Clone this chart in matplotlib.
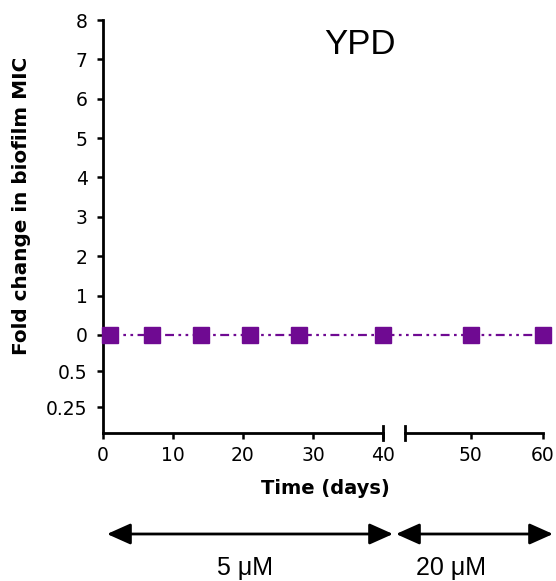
import matplotlib
matplotlib.use("Agg")
import matplotlib.pyplot as plt
import matplotlib.transforms as mtransforms
import numpy as np

plt.rcParams['font.family'] = ['DejaVu Sans']

# data
days = [1, 7, 14, 21, 28, 40, 50, 60]
fold_change = [0, 0, 0, 0, 0, 0, 0, 0]

y_tick_pos = [-1.83, -0.92, 0, 1, 2, 3, 4, 5, 6, 7, 8]
y_tick_labels = ['0.25', '0.5', '0', '1', '2', '3', '4', '5', '6', '7', '8']
x_ticks = [0, 10, 20, 30, 40, 50, 60]
dose_labels = ['5 \u03bcM', '20 \u03bcM']

# broken x axis: 0-40 then 40.9-60
brk_x = [0, 40, 40.9, 60]
brk_px = [0, 280, 302, 440]


def fwd(x):
    return np.interp(x, brk_x, brk_px, left=-1e3, right=1e3)


def inv(p):
    return np.interp(p, brk_px, brk_x)


purple = '#6f0a92'

fig = plt.figure(figsize=(5.56, 5.81), dpi=100)
ax = fig.add_axes([103 / 556, 1 - 433 / 581, 440 / 556, 413 / 581])
ax.set_xscale('function', functions=(fwd, inv))
ax.set_xlim(0, 60)
ax.set_ylim(-2.49, 8)

ax.plot(days, fold_change, color=purple, lw=1.6, dashes=[4, 2, 1.2, 2, 1.2, 2],
        marker='s', ms=11.3, mfc=purple, mec=purple, clip_on=False, zorder=5)

for s in ['top', 'right', 'bottom']:
    ax.spines[s].set_visible(False)
ax.spines['left'].set_linewidth(2)

# bottom axis drawn in two pieces
trans = mtransforms.blended_transform_factory(ax.transData, ax.transAxes)
ax.plot([0, 40], [0, 0], color='k', lw=2, transform=trans, clip_on=False)
ax.plot([40.9, 60], [0, 0], color='k', lw=2, transform=trans, clip_on=False)
for xc in [40, 40.9]:
    ax.plot([xc, xc], [-0.018, 0.018], color='k', lw=2, transform=trans, clip_on=False)

ax.set_yticks(y_tick_pos)
ax.set_yticklabels(y_tick_labels)
ax.set_xticks(x_ticks)
ax.set_xticklabels([str(t) for t in x_ticks])
ax.xaxis.set_minor_locator(matplotlib.ticker.NullLocator())
ax.tick_params(axis='both', direction='out', length=4.5, width=1.8, labelsize=13.5, colors='k')
ax.tick_params(axis='y', pad=6.5)
ax.tick_params(axis='x', pad=5)

ax.set_ylabel('Fold change in biofilm MIC', fontsize=14.4, fontweight='bold')
ax.yaxis.set_label_coords(-(103 - 22) / 440, (433 - 206) / 413)
ax.set_xlabel('Time (days)', fontsize=14, fontweight='bold')
ax.xaxis.set_label_coords((325 - 103) / 440, -(488 - 433) / 413)
ax.xaxis.label.set_va('center')
ax.yaxis.label.set_va('center')

fig.text(360 / 556, 1 - 45 / 581, 'YPD', fontsize=25, ha='center', va='center',
         family='Liberation Sans')

# dose arrows
arrow_y = 1 - 534 / 581
arrows = [(107, 393), (396, 553)]
for (x0, x1) in arrows:
    fig.add_artist(matplotlib.patches.FancyArrowPatch(
        (x0 / 556, arrow_y), (x1 / 556, arrow_y), transform=fig.transFigure,
        arrowstyle='<|-|>,head_length=1.03,head_width=0.46', mutation_scale=14,
        color='k', lw=2, shrinkA=0, shrinkB=0))

for lbl, xc in zip(dose_labels, [245, 451]):
    fig.text(xc / 556, 1 - 568 / 581, lbl, fontsize=18, ha='center', va='center',
             family='Liberation Sans')

fig.savefig('out.png', dpi=100)
